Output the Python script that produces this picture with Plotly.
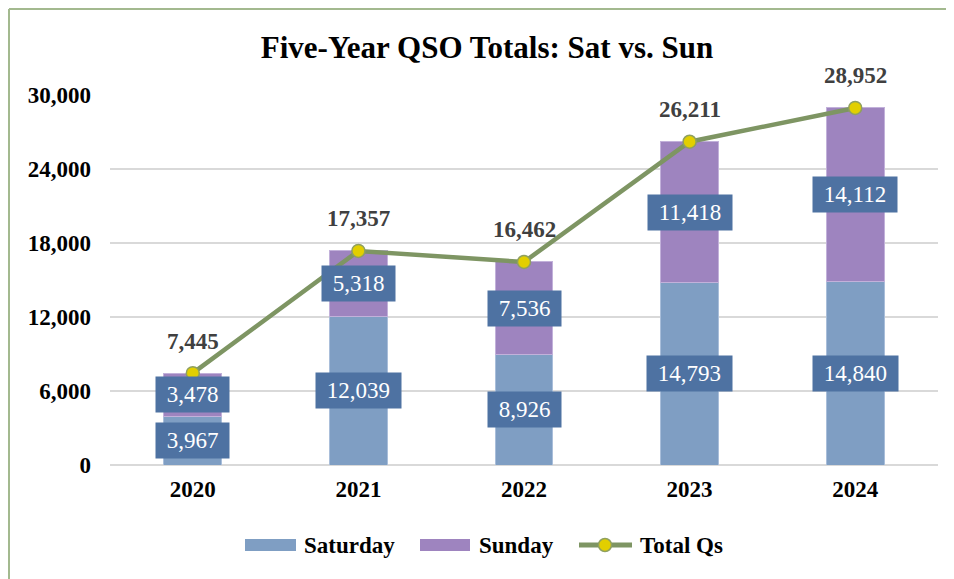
import plotly.graph_objects as go

years = ["2020", "2021", "2022", "2023", "2024"]
saturday = [3967, 12039, 8926, 14793, 14840]
sunday = [3478, 5318, 7536, 11418, 14112]
total = [7445, 17357, 16462, 26211, 28952]
y_ticks = [0, 6000, 12000, 18000, 24000, 30000]
series_names = ["Saturday", "Sunday", "Total Qs"]

OFF = 8  # page body margin
W, H = 954 - OFF, 579 - OFF
L, R, T = 110 - OFF, 16, 95 - OFF
B = H - (465 - OFF)
pw, ph = W - L - R, H - T - B

def sx(p):  # screen px -> paper x
    return (p - OFF - L) / pw

def sy(p):  # screen px -> paper y
    return (H - B - (p - OFF)) / ph

FONT = "Liberation Serif"
SAT_C = "#7F9EC3"
SUN_C = "#9E84BF"
LINE_C = "#7E9563"
BOX_C = "#4E72A2"
MARK_C = "#E2CF00"
MARK_LINE = "#8FA060"

fig = go.Figure()
fig.add_trace(go.Bar(x=years, y=saturday, name=series_names[0],
                     marker=dict(color=SAT_C, line=dict(color="#A9BEDA", width=1)), width=0.35))
fig.add_trace(go.Bar(x=years, y=sunday, name=series_names[1],
                     marker=dict(color=SUN_C, line=dict(color="#C2B1DA", width=1)), width=0.35))
fig.add_trace(go.Scatter(x=years, y=total, name=series_names[2], mode="lines+markers",
                         line=dict(color=LINE_C, width=4.5),
                         marker=dict(size=13, color=MARK_C, line=dict(color=MARK_LINE, width=1.5))))

annotations = []
for i, yr in enumerate(years):
    for val, ypos in ((saturday[i], saturday[i] / 2), (sunday[i], saturday[i] + sunday[i] / 2)):
        annotations.append(dict(x=i, y=ypos, text=f"&nbsp;{val:,}&nbsp;", showarrow=False,
                                bgcolor=BOX_C, font=dict(family=FONT, size=23, color="white"), borderpad=5))
    annotations.append(dict(x=i, y=total[i], text=f"<b>{total[i]:,}</b>", showarrow=False, yshift=32,
                            font=dict(family=FONT, size=23, color="#404040")))

# custom legend (Excel style)
leg_y = 545
shapes = [
    dict(type="line", xref="paper", yref="paper", x0=sx(OFF + 1), x1=sx(954), y0=sy(OFF + 1), y1=sy(OFF + 1),
         line=dict(color="#A3B98F", width=2)),
    dict(type="line", xref="paper", yref="paper", x0=sx(OFF + 1), x1=sx(OFF + 1), y0=sy(OFF + 1), y1=sy(579),
         line=dict(color="#A3B98F", width=2)),
    dict(type="rect", xref="paper", yref="paper", x0=sx(245), x1=sx(296), y0=sy(leg_y - 6), y1=sy(leg_y + 6),
         fillcolor=SAT_C, line=dict(width=0)),
    dict(type="rect", xref="paper", yref="paper", x0=sx(420), x1=sx(470), y0=sy(leg_y - 6), y1=sy(leg_y + 6),
         fillcolor=SUN_C, line=dict(width=0)),
    dict(type="line", xref="paper", yref="paper", x0=sx(579), x1=sx(632), y0=sy(leg_y), y1=sy(leg_y),
         line=dict(color=LINE_C, width=5)),
    dict(type="circle", xref="paper", yref="paper", x0=sx(605 - 6.5), x1=sx(605 + 6.5),
         y0=sy(leg_y - 6.5), y1=sy(leg_y + 6.5), fillcolor=MARK_C, line=dict(color=MARK_LINE, width=1.5)),
]
for name, xs in zip(series_names, (302, 477, 638)):
    annotations.append(dict(xref="paper", yref="paper", x=sx(xs), y=sy(leg_y), xanchor="left", yanchor="middle",
                            text=f"<b>{name}</b>", showarrow=False,
                            font=dict(family=FONT, size=23, color="black")))

fig.update_layout(
    width=W, height=H,
    barmode="stack",
    margin=dict(l=L, r=R, t=T, b=B),
    paper_bgcolor="white", plot_bgcolor="white",
    title=dict(text="<b>Five-Year QSO Totals: Sat vs. Sun</b>", x=sx(487), xref="paper", xanchor="center",
               y=1 - (47 - OFF) / H, yanchor="middle", font=dict(family=FONT, size=31, color="black")),
    font=dict(family=FONT, color="black"),
    xaxis=dict(type="category", range=[-0.5, 4.5], tickvals=years, ticktext=[f"<b>{y}</b>" for y in years],
               tickfont=dict(family=FONT, size=23, color="black"), showgrid=False, ticks="",
               showline=False, ticklabelstandoff=8),
    yaxis=dict(range=[0, 30000], tickvals=y_ticks, ticktext=[f"<b>{v:,}</b>" for v in y_ticks],
               tickfont=dict(family=FONT, size=23, color="black"), gridcolor="#D9D9D9", gridwidth=1.5,
               zeroline=True, zerolinecolor="#D9D9D9", zerolinewidth=1.5, ticks="", ticklabelstandoff=18),
    annotations=annotations,
    shapes=shapes,
    showlegend=False,
)

fig.write_html("out.html")
